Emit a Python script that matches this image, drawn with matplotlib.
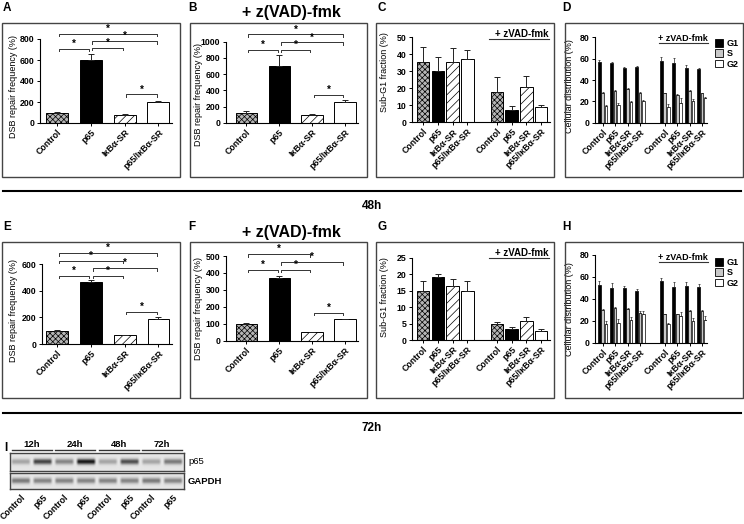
import numpy as np
import matplotlib.pyplot as plt
from matplotlib.patches import Rectangle, Patch
from matplotlib.lines import Line2D

plt.rcParams['font.family'] = ['Liberation Sans', 'DejaVu Sans']
plt.rcParams['font.weight'] = 'bold'
plt.rcParams['hatch.linewidth'] = 0.5
plt.rcParams['hatch.color'] = '#222222'

W, H = 744, 524

groups = ['Control', 'p65', 'IκBα-SR', 'p65/IκBα-SR']

# DSB repair frequency (%)
dsb_a = [100, 600, 75, 200]
dsb_a_err = [5, 55, 8, 8]
dsb_b = [125, 700, 90, 250]
dsb_b_err = [15, 130, 15, 30]
dsb_e = [100, 470, 65, 185]
dsb_e_err = [5, 15, 5, 15]
dsb_f = [100, 370, 50, 128]
dsb_f_err = [3, 12, 3, 3]

# significance brackets (left bar, right bar, height)
sig_a = [(0, 1, 705), (1, 2, 714), (1, 3, 778), (0, 3, 851), (2, 3, 272)]
sig_b = [(0, 1, 897), (1, 2, 897), (1, 3, 992), (0, 3, 1090), (2, 3, 342)]
sig_e = [(0, 1, 515), (1, 2, 515), (1, 3, 570), (0, 2, 628), (0, 3, 683), (2, 3, 244)]
sig_f = [(0, 1, 417), (1, 2, 417), (1, 3, 463), (0, 2, 510), (2, 3, 165)]

# Sub-G1 fraction (%): untreated, then + zVAD-fmk
subg1_c = [35.5, 30, 35.5, 37, 18, 7, 20.5, 9]
subg1_c_err = [9, 8.5, 8.5, 5.5, 8.5, 2.5, 7, 1]
subg1_g = [15, 19, 16.5, 15, 4.8, 3.3, 5.7, 2.8]
subg1_g_err = [3, 1, 2, 3, 0.6, 0.6, 1.2, 0.5]

# cell cycle distribution (%)
g1_d = [57, 55.6, 51, 52, 57.8, 56, 51, 50.3]
g1_d_err = [1.5, 1.2, 1.5, 1.5, 3.4, 4.4, 3.4, 0.6]
s_d = [28, 30, 31.5, 28, 27.5, 26.2, 30, 27.5]
s_d_err = [0.6, 0.6, 0.6, 0.6, 0.6, 0.6, 1, 0.6]
g2_d = [15.6, 17, 19.4, 20.6, 15, 18.4, 20.3, 23.4]
g2_d_err = [0.6, 1, 0.6, 0.6, 2.5, 4.4, 2.2, 0.6]

g1_h = [53, 49.5, 49.5, 47.5, 56.5, 51, 51.5, 50.5]
g1_h_err = [3, 5, 2.5, 1.5, 2.5, 4.5, 4, 3.5]
s_h = [30, 32, 30.5, 27, 26, 26, 29, 28.5]
s_h_err = [1, 0.5, 1.5, 1.5, 0.5, 0.5, 1, 1]
g2_h = [17, 18, 20.5, 26, 17.5, 24, 19.5, 21]
g2_h_err = [3, 4, 3, 3, 0.5, 4, 3, 3.5]

# western blot (relative band strength)
blot_lanes = ['Control', 'p65'] * 4
blot_times = ['12h', '24h', '48h', '72h']
p65_band = [0.3, 0.75, 0.45, 0.95, 0.3, 0.7, 0.3, 0.5]
gapdh_band = [0.5, 0.45, 0.45, 0.45, 0.45, 0.45, 0.5, 0.45]

bar_styles = [dict(facecolor='#b5b5b5', hatch='xxxxxx'),
              dict(facecolor='black'),
              dict(facecolor='white', hatch='////'),
              dict(facecolor='white')]

fig = plt.figure(figsize=(W / 100, H / 100), dpi=100)


def fx(x):
    return x / W


def fy(y):
    return 1 - y / H


def make_axes(x0, x1, yzero, ytick_px, ytick_val, ymax):
    ppu = (yzero - ytick_px) / ytick_val
    top = yzero - ymax * ppu
    ax = fig.add_axes([fx(x0), fy(yzero), (x1 - x0) / W, (yzero - top) / H])
    ax.set_ylim(0, ymax)
    ax.patch.set_alpha(0)
    return ax


def style(ax, yticks, xpos, xlabels, xlim, ylabel, lx, ly):
    ax.set_xlim(*xlim)
    ax.set_yticks(yticks)
    ax.spines[['top', 'right']].set_visible(False)
    ax.spines['left'].set_bounds(yticks[0], yticks[-1])
    for s in ax.spines.values():
        s.set_linewidth(0.8)
    ax.set_xticks(xpos)
    ax.set_xticklabels(xlabels, rotation=45, ha='right', rotation_mode='anchor', fontsize=6.3)
    ax.tick_params(axis='y', length=2.5, width=0.7, labelsize=6.3, pad=1.5)
    ax.tick_params(axis='x', length=2, width=0.7, pad=1.5)
    ax.set_ylabel(ylabel, fontsize=6.5)
    ax.yaxis.set_label_coords(fx(lx), fy(ly), transform=fig.transFigure)


def frame(x0, y0, x1, y1):
    fig.add_artist(Rectangle((fx(x0), fy(y1)), (x1 - x0) / W, (y1 - y0) / H,
                             transform=fig.transFigure, fill=False, ec='#444444', lw=1))


def brackets(ax, pairs, tick):
    for a, b, h in pairs:
        ax.plot([a + 0.05, a + 0.05, b - 0.05, b - 0.05], [h - tick, h, h, h - tick],
                color='#333333', lw=0.7, clip_on=False)
        ax.text((a + b) / 2, h, '*', ha='center', va='bottom', fontsize=7)


def dsb_panel(x0, x1, yzero, ytick_px, ytick_val, ymax, yticks, vals, errs, sig, xlim, lx, ly):
    ax = make_axes(x0, x1, yzero, ytick_px, ytick_val, ymax)
    x = np.arange(len(vals))
    for i in x:
        ax.bar(i, vals[i], width=0.65, edgecolor='black', lw=0.7, **bar_styles[i])
    ax.errorbar(x, vals, yerr=[np.zeros(len(vals)), errs], fmt='none', ecolor='#222222',
                elinewidth=0.7, capsize=2, capthick=0.7)
    brackets(ax, sig, ymax * 0.025)
    style(ax, yticks, x, groups, xlim, 'DSB repair frequency (%)', lx, ly)
    return ax


def zvad_label(ax, y, fs):
    ax.plot([4.5, 8.5], [y, y], color='#333333', lw=0.8, clip_on=False)
    ax.text(8.5, y, '+ zVAD-fmk', ha='right', va='bottom', fontsize=fs)


def subg1_panel(yzero, ytick_px, ytick_val, ymax, yticks, vals, errs, liney, ly):
    ax = make_axes(412, 550, yzero, ytick_px, ytick_val, ymax)
    x = np.array([0, 1, 2, 3, 5, 6, 7, 8])
    for k, i in enumerate(x):
        ax.bar(i, vals[k], width=0.85, edgecolor='black', lw=0.7, **bar_styles[k % 4])
    ax.errorbar(x, vals, yerr=[np.zeros(len(vals)), errs], fmt='none', ecolor='#222222',
                elinewidth=0.7, capsize=2, capthick=0.7)
    zvad_label(ax, liney, 7)
    style(ax, yticks, x, groups * 2, (-0.75, 8.6), 'Sub-G1 fraction (%)', 389, ly)
    return ax


def cycle_panel(yzero, ytick_px, ymax, g1, g1e, s, se, g2, g2e, liney, legy, ly):
    ax = make_axes(595, 707, yzero, ytick_px, 80, ymax)
    x = np.array([0, 1, 2, 3, 5, 6, 7, 8])
    phases = [(g1, g1e, 'black', -0.27), (s, se, '#c8c8c8', 0.0), (g2, g2e, 'white', 0.27)]
    for vals, errs, col, off in phases:
        ax.bar(x + off, vals, width=0.22, color=col, edgecolor='black', lw=0.5)
        ax.errorbar(x + off, vals, yerr=[np.zeros(len(vals)), errs], fmt='none',
                    ecolor='#222222', elinewidth=0.5, capsize=0.8, capthick=0.5)
    zvad_label(ax, liney, 6.5)
    handles = [Patch(facecolor=c, edgecolor='black', lw=0.6) for c in ['black', '#c8c8c8', 'white']]
    ax.legend(handles, ['G1', 'S', 'G2'], loc='upper left', bbox_to_anchor=(fx(715), fy(legy)),
              bbox_transform=fig.transFigure, frameon=False, fontsize=6.5, handlelength=0.9,
              handleheight=0.9, labelspacing=0.15, handletextpad=0.4, borderpad=0, borderaxespad=0)
    style(ax, [0, 20, 40, 60, 80], x, groups * 2, (-0.62, 8.4), 'Cellular distribution (%)', 574, ly)
    return ax


# ---- row 1 ----
for x0, x1 in [(2, 180), (190, 367), (376, 554), (565, 743)]:
    frame(x0, 23, x1, 177)

dsb_panel(40, 172, 123, 39, 800, 920, [0, 200, 400, 600, 800], dsb_a, dsb_a_err, sig_a,
          (-0.5, 3.4), 18, 87)
dsb_panel(226, 358, 122.7, 41.7, 1000, 1180, [0, 200, 400, 600, 800, 1000], dsb_b, dsb_b_err,
          sig_b, (-0.62, 3.4), 203, 95)
subg1_panel(122.3, 37.3, 50, 55, [0, 10, 20, 30, 40, 50], subg1_c, subg1_c_err, 49, 72)
cycle_panel(122.7, 37.3, 88, g1_d, g1_d_err, s_d, s_d_err, g2_d, g2_d_err, 75, 39, 86)

# ---- row 2 ----
for x0, x1 in [(2, 180), (190, 367), (376, 554), (565, 743)]:
    frame(x0, 242, x1, 398)

dsb_panel(42, 172, 344, 264.3, 600, 745, [0, 200, 400, 600], dsb_e, dsb_e_err, sig_e,
          (-0.45, 3.4), 18, 310)
dsb_panel(226, 358, 340.7, 256, 500, 560, [0, 100, 200, 300, 400, 500], dsb_f, dsb_f_err,
          sig_f, (-0.62, 3.4), 203, 308)
subg1_panel(340, 257.7, 25, 28, [0, 5, 10, 15, 20, 25], subg1_g, subg1_g_err, 24.8, 297)
cycle_panel(342.7, 255, 86, g1_h, g1_h_err, s_h, s_h_err, g2_h, g2_h_err, 74, 258, 309)

# panel letters and titles
for letter, x, y in [('A', 3, 8), ('B', 188, 8), ('C', 377, 8), ('D', 562, 8),
                     ('E', 3, 227), ('F', 188, 227), ('G', 377, 227), ('H', 562, 227),
                     ('I', 4, 448)]:
    fig.text(fx(x), fy(y), letter, fontsize=8.5, va='center', ha='left')
fig.text(fx(291), fy(13), '+ z(VAD)-fmk', fontsize=11.5, ha='center', va='center')
fig.text(fx(291), fy(233), '+ z(VAD)-fmk', fontsize=11.5, ha='center', va='center')

# time separators
for ly, txt, ty in [(191, '48h', 206), (413, '72h', 428)]:
    fig.add_artist(Line2D([fx(3), fx(741)], [fy(ly), fy(ly)], color='black', lw=1.5))
    fig.text(fx(372), fy(ty), txt, fontsize=8.5, ha='center', va='center')


# ---- western blot ----
def blot_image(strength, center, sigma):
    ncol, nrow = 8 * 40, 24
    cols = (np.arange(ncol) + 0.5) / 40
    rows = np.arange(nrow)
    img = np.full((nrow, ncol), 0.9)
    rowprof = np.exp(-0.5 * ((rows - center) / sigma) ** 2)
    for i, st in enumerate(strength):
        colprof = np.clip((0.47 - np.abs(cols - (i + 0.5))) / 0.12, 0, 1)
        img -= 0.85 * st * np.outer(rowprof, colprof)
    return np.clip(img, 0, 1)


ax_p = fig.add_axes([fx(10), fy(471), (184 - 10) / W, (471 - 453) / H])
ax_p.imshow(blot_image(p65_band, 11, 2.6), cmap='gray', vmin=0, vmax=1, aspect='auto',
            extent=(0, 8, 0, 1))
ax_g = fig.add_axes([fx(10), fy(489), (184 - 10) / W, (489 - 473) / H])
ax_g.imshow(blot_image(gapdh_band, 11, 3.0), cmap='gray', vmin=0, vmax=1, aspect='auto',
            extent=(0, 8, 0, 1))
for ax in (ax_p, ax_g):
    for s in ax.spines.values():
        s.set_color('#444444')
        s.set_linewidth(1)
    ax.set_yticks([])
    ax.set_xticks([])
ax_g.set_xticks(np.arange(8) + 0.5)
ax_g.set_xticklabels(blot_lanes, rotation=45, ha='right', rotation_mode='anchor', fontsize=6.3)
ax_g.tick_params(axis='x', length=0, pad=3)
tr = ax_p.get_xaxis_transform()
for j, t in enumerate(blot_times):
    ax_p.plot([2 * j + 0.08, 2 * j + 1.92], [1.15, 1.15], color='#333333', lw=1, transform=tr,
              clip_on=False)
    ax_p.text(2 * j + 1, 1.2, t, transform=tr, ha='center', va='bottom', fontsize=6.8)
fig.text(fx(188), fy(462), 'p65', fontsize=6.8, va='center', weight='normal')
fig.text(fx(188), fy(481), 'GAPDH', fontsize=6.8, va='center')

fig.savefig('out.png', dpi=100)
